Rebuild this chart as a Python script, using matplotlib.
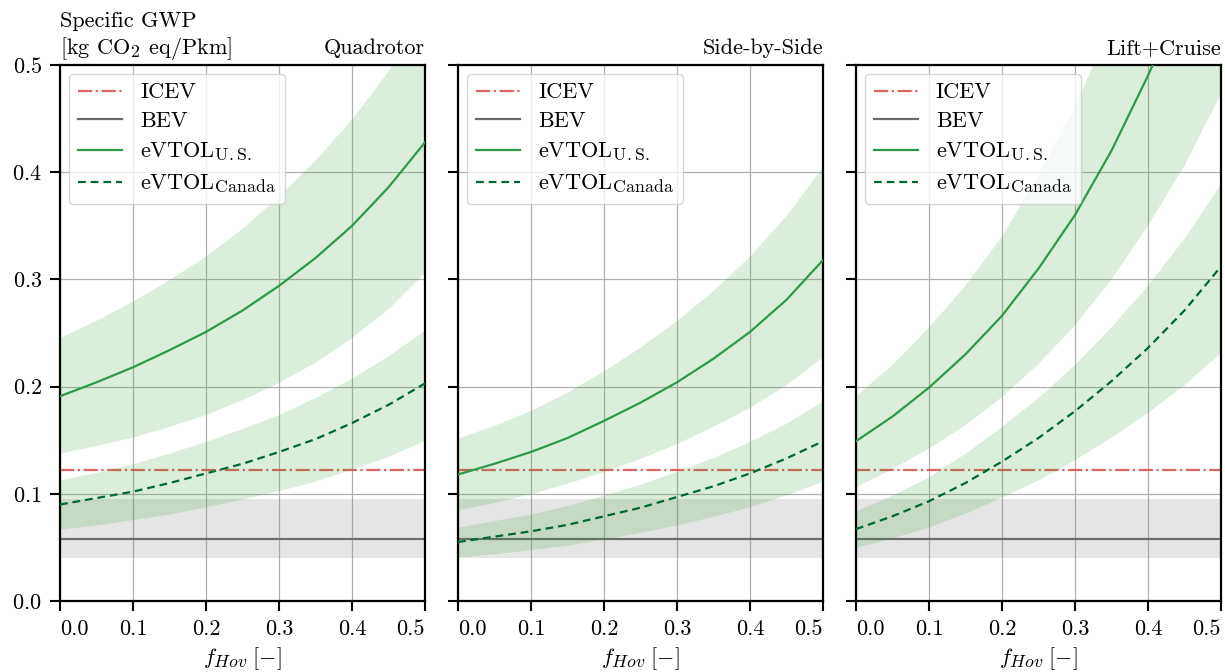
import numpy as np
import matplotlib
matplotlib.use('Agg')
import matplotlib.pyplot as plt
import matplotlib._mathtext as mathtext_internals


# share of hover in the mission
F_HOV = [0.0, 0.05, 0.1, 0.15, 0.2, 0.25, 0.3, 0.35, 0.4, 0.45, 0.5]

PANELS = ['Quadrotor', 'Side-by-Side', 'Lift+Cruise']

# reference cars [kg CO2 eq/Pkm]
ICEV = 0.122
BEV = 0.058
BEV_LOW = 0.040
BEV_HIGH = 0.095

# eVTOL, U.S. grid
US_QUAD = [0.191, 0.204, 0.218, 0.234, 0.251, 0.271, 0.294, 0.320, 0.350, 0.386, 0.428]
US_QUAD_LOW = [0.138, 0.145, 0.153, 0.163, 0.174, 0.188, 0.204, 0.223, 0.246, 0.273, 0.307]
US_QUAD_HIGH = [0.246, 0.262, 0.280, 0.300, 0.322, 0.348, 0.378, 0.412, 0.450, 0.495, 0.549]
US_SBS = [0.118, 0.128, 0.139, 0.152, 0.168, 0.185, 0.204, 0.226, 0.251, 0.281, 0.318]
US_SBS_LOW = [0.085, 0.092, 0.100, 0.110, 0.121, 0.133, 0.147, 0.163, 0.181, 0.202, 0.228]
US_SBS_HIGH = [0.152, 0.164, 0.178, 0.195, 0.215, 0.237, 0.262, 0.290, 0.322, 0.360, 0.406]
US_LC = [0.149, 0.172, 0.199, 0.230, 0.266, 0.310, 0.360, 0.420, 0.490, 0.568, 0.657]
US_LC_LOW = [0.106, 0.123, 0.142, 0.164, 0.190, 0.221, 0.257, 0.300, 0.350, 0.406, 0.473]
US_LC_HIGH = [0.191, 0.220, 0.255, 0.294, 0.340, 0.397, 0.461, 0.538, 0.627, 0.727, 0.841]

# eVTOL, Canadian grid
CA_QUAD = [0.090, 0.096, 0.102, 0.110, 0.119, 0.128, 0.139, 0.151, 0.166, 0.183, 0.203]
CA_QUAD_LOW = [0.067, 0.071, 0.076, 0.081, 0.088, 0.095, 0.103, 0.112, 0.123, 0.135, 0.150]
CA_QUAD_HIGH = [0.113, 0.120, 0.128, 0.138, 0.149, 0.161, 0.174, 0.190, 0.208, 0.229, 0.253]
CA_SBS = [0.055, 0.060, 0.065, 0.071, 0.079, 0.087, 0.097, 0.107, 0.119, 0.133, 0.149]
CA_SBS_LOW = [0.041, 0.044, 0.048, 0.052, 0.058, 0.064, 0.071, 0.079, 0.088, 0.099, 0.112]
CA_SBS_HIGH = [0.069, 0.075, 0.081, 0.089, 0.099, 0.109, 0.121, 0.134, 0.149, 0.166, 0.187]
CA_LC = [0.067, 0.079, 0.093, 0.110, 0.130, 0.152, 0.177, 0.205, 0.236, 0.271, 0.312]
CA_LC_LOW = [0.050, 0.059, 0.069, 0.082, 0.097, 0.113, 0.132, 0.153, 0.176, 0.202, 0.232]
CA_LC_HIGH = [0.084, 0.099, 0.116, 0.138, 0.163, 0.190, 0.221, 0.256, 0.295, 0.339, 0.390]

X_TICKS = [0.0, 0.1, 0.2, 0.3, 0.4, 0.5]
Y_TICKS = [0.0, 0.1, 0.2, 0.3, 0.4, 0.5]

FONT_SIZE = 16

plt.rcParams['font.family'] = 'serif'
plt.rcParams['font.serif'] = ['cmr10']
plt.rcParams['mathtext.fontset'] = 'cm'
plt.rcParams['axes.unicode_minus'] = False
plt.rcParams['axes.formatter.use_mathtext'] = True
plt.rcParams['font.size'] = FONT_SIZE

# LaTeX-like subscripts are a bit bigger than mathtext's default
mathtext_internals.SHRINK_FACTOR = 0.8


def draw_panel(ax, name, us, us_low, us_high, ca, ca_low, ca_high):
    '''
        Draws one configuration: reference cars plus both eVTOL curves with bands.
    '''
    ax.axhline(ICEV, color='#d9534f', alpha=0.9, ls='-.', lw=1.6, zorder=1.5, label='ICEV')
    ax.axhline(BEV, color='dimgray', lw=1.6, zorder=1.5, label='BEV')
    ax.axhspan(BEV_LOW, BEV_HIGH, color='gray', alpha=0.2, lw=0, zorder=2)

    ax.fill_between(F_HOV, us_low, us_high, color='tab:green', alpha=0.17, lw=0, zorder=2)
    ax.fill_between(F_HOV, ca_low, ca_high, color='tab:green', alpha=0.17, lw=0, zorder=2)
    ax.plot(F_HOV, us, color='#2e9a48', lw=1.6, zorder=3, label=r'eVTOL$_{\mathrm{U.S.}}$')
    ax.plot(F_HOV, ca, color='#00692f', lw=1.6, ls=(0, (3.5, 2.2)), zorder=3,
            label=r'eVTOL$_{\mathrm{Canada}}$')

    ax.set_xlim(0, 0.5)
    ax.set_ylim(0, 0.5)
    ax.set_xticks(X_TICKS)
    ax.set_yticks(Y_TICKS)
    ax.set_xticklabels(['%.1f' % t for t in X_TICKS])
    ticks = ax.xaxis.get_major_ticks()
    ticks[0].label1.set_horizontalalignment('left')
    ticks[-1].label1.set_horizontalalignment('right')

    ax.grid(True, color='#b0b0b0', lw=0.9)
    ax.set_axisbelow(True)
    ax.tick_params(direction='out', length=7, width=1.5, pad=6)
    for sp in ax.spines.values():
        sp.set_linewidth(1.6)

    ax.set_title(name, loc='right', fontsize=FONT_SIZE, pad=8)
    ax.set_xlabel(r'$f_{Hov}\;[-]$', fontsize=FONT_SIZE, labelpad=5)
    ax.legend(loc='upper left', fontsize=FONT_SIZE, handlelength=2.0,
              labelspacing=0.42, borderaxespad=0.4, framealpha=0.8)


if __name__ == '__main__':
    fig, axes = plt.subplots(1, 3, figsize=(12.25, 6.72), dpi=100, sharey=True)
    fig.subplots_adjust(left=0.049, right=0.9967, bottom=0.1057, top=0.9033, wspace=0.09)

    draw_panel(axes[0], PANELS[0], US_QUAD, US_QUAD_LOW, US_QUAD_HIGH,
               CA_QUAD, CA_QUAD_LOW, CA_QUAD_HIGH)
    draw_panel(axes[1], PANELS[1], US_SBS, US_SBS_LOW, US_SBS_HIGH,
               CA_SBS, CA_SBS_LOW, CA_SBS_HIGH)
    draw_panel(axes[2], PANELS[2], US_LC, US_LC_LOW, US_LC_HIGH,
               CA_LC, CA_LC_LOW, CA_LC_HIGH)

    axes[0].set_title('Specific GWP\n[kg CO$_2$ eq/Pkm]', loc='left', fontsize=FONT_SIZE,
                      pad=8, ha='left')

    fig.savefig('out.png', dpi=100)
